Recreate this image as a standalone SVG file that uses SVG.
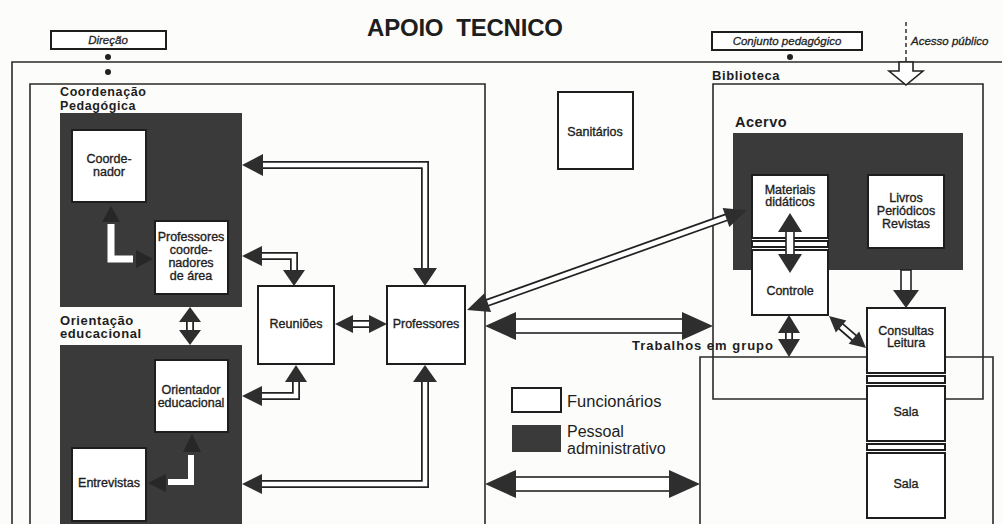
<svg xmlns="http://www.w3.org/2000/svg" width="1002" height="524" viewBox="0 0 1002 524">
<style>
text{font-family:"Liberation Sans",Arial,sans-serif;fill:#1e1e1e}
.t{font-size:12.5px;text-anchor:middle;stroke:#1e1e1e;stroke-width:0.35}
.b{font-weight:bold}
.i{font-style:italic;font-size:11.5px;stroke-width:0.3}
.frame{fill:none;stroke:#2a2a2a;stroke-width:1.6}
.box{fill:#fff;stroke:#1e1e1e;stroke-width:2}
.dark{fill:#3a3a3a}
.head{fill:#2e2e2e}
.dhead{fill:#272727}
.so{fill:none;stroke:#222;stroke-width:8}
.si{fill:none;stroke:#fff;stroke-width:4.5}
.sr{fill:#fff;stroke:#222;stroke-width:1.6}
</style>
<rect width="1002" height="524" fill="#fcfcfa"/>

<g id="title"><text x="367" y="36" font-size="24" class="b" fill="#2a2a2a" textLength="196" xml:space="preserve">APOIO  TECNICO</text></g>

<g id="frames">
<path class="frame" d="M12,524 V62 H1002"/>
<path class="frame" d="M30,524 V84 H485 V524"/>
<path class="frame" d="M713,84 H983 V399 H713 Z"/>
<path class="frame" d="M700,524 V357 H993 V524"/>
<line x1="906" y1="22" x2="906" y2="62" stroke="#222" stroke-width="1.4" stroke-dasharray="4,3"/>
<circle cx="108" cy="57" r="3" fill="#222"/>
<circle cx="108" cy="72" r="3" fill="#222"/>
<circle cx="790" cy="57" r="3" fill="#222"/>
<polygon points="899,62 913,62 913,71 923,71 906,85 889,71 899,71" fill="#fff" stroke="#222" stroke-width="1.6"/>
</g>

<g id="direcao"><rect x="51" y="31" width="115" height="18" class="box" stroke-width="1.5"/><text x="108" y="44" class="t i">Direção</text></g>
<g id="conjunto"><rect x="712" y="32" width="150" height="18" class="box" stroke-width="1.5"/><text x="787" y="45" class="t i">Conjunto pedagógico</text></g>
<g id="acesso"><text x="911" y="45" class="i" stroke="#1e1e1e">Acesso público</text></g>

<g id="coordenacao">
<text x="60" y="96" font-size="12.5" class="b" letter-spacing="0.6">Coordenação</text>
<text x="60" y="109.5" font-size="12.5" class="b" letter-spacing="0.6">Pedagógica</text>
<rect x="60" y="113" width="182" height="194" class="dark"/>
</g>
<g id="coordenador"><rect x="72" y="130" width="74" height="72" class="box"/><text x="109" y="163" class="t">Coorde-</text><text x="109" y="176" class="t">nador</text></g>
<g id="prof-coord"><rect x="155" y="221" width="73" height="73" class="box"/><text x="191" y="241" class="t">Professores</text><text x="191" y="254" class="t">coorde-</text><text x="191" y="267" class="t">nadores</text><text x="191" y="280" class="t">de área</text></g>

<g id="orientacao">
<text x="60" y="325" font-size="13" class="b" letter-spacing="0.6">Orientação</text>
<text x="60" y="338" font-size="13" class="b" letter-spacing="0.6">educacional</text>
<rect x="60" y="345" width="182" height="179" class="dark"/>
</g>
<g id="orientador"><rect x="155" y="360" width="73" height="72" class="box"/><text x="191" y="394" class="t">Orientador</text><text x="191" y="407" class="t">educacional</text></g>
<g id="entrevistas"><rect x="72" y="448" width="74" height="73" class="box"/><text x="109" y="487" class="t">Entrevistas</text></g>

<g id="reunioes"><rect x="258" y="286" width="76" height="78" class="box"/><text x="296" y="328" class="t">Reuniões</text></g>
<g id="professores"><rect x="387" y="286" width="78" height="78" class="box"/><text x="426" y="328" class="t">Professores</text></g>
<g id="sanitarios"><rect x="558" y="92" width="75" height="77" class="box"/><text x="595" y="136" class="t">Sanitários</text></g>

<g id="biblioteca"><text x="712" y="80" font-size="13" class="b" letter-spacing="0.6">Biblioteca</text></g>
<g id="acervo">
<text x="735" y="127" font-size="14.5" class="b" letter-spacing="0.5">Acervo</text>
<rect x="733" y="133" width="230" height="137" class="dark"/>
</g>
<g id="materiais-controle">
<rect x="752" y="175" width="76" height="140" fill="#fff"/>
<rect x="752" y="175" width="76" height="63" class="box"/><text x="790" y="194" class="t">Materiais</text><text x="790" y="206" class="t">didáticos</text>
<rect x="752" y="241" width="76" height="6" class="box" stroke-width="1.5"/>
<rect x="752" y="250" width="76" height="65" class="box"/><text x="790" y="295" class="t">Controle</text>
</g>
<g id="livros"><rect x="868" y="175" width="76" height="73" class="box"/><text x="906" y="202" class="t">Livros</text><text x="906" y="215" class="t">Periódicos</text><text x="906" y="228" class="t">Revistas</text></g>
<g id="consultas-salas">
<rect x="867" y="308" width="78" height="210" fill="#fff"/>
<rect x="867" y="308" width="78" height="65" class="box"/><text x="906" y="335" class="t">Consultas</text><text x="906" y="347" class="t">Leitura</text>
<rect x="867" y="376" width="78" height="7" class="box" stroke-width="1.5"/>
<rect x="867" y="386" width="78" height="55" class="box"/><text x="906" y="416" class="t">Sala</text>
<rect x="867" y="444" width="78" height="6" class="box" stroke-width="1.5"/>
<rect x="867" y="453" width="78" height="65" class="box"/><text x="906" y="488" class="t">Sala</text>
</g>
<g id="trabalhos"><text x="632" y="350" font-size="13" class="b" textLength="141">Trabalhos em grupo</text></g>

<g id="legenda">
<rect x="512" y="388" width="49" height="24" class="box" stroke-width="1.5"/>
<text x="567" y="407" font-size="16.5">Funcionários</text>
<rect x="512" y="425" width="49" height="27" class="dark"/>
<text x="567" y="437" font-size="16">Pessoal</text>
<text x="567" y="454" font-size="16">administrativo</text>
</g>

<g id="connectors">
<path class="so" d="M425,270 V165 H260"/><path class="si" d="M425,270 V165 H260"/>
<polygon class="head" points="242,165 263,154 263,176"/>
<polygon class="head" points="425,286 413,268 437,268"/>
<path class="so" d="M294,272 V256 H260"/><path class="si" d="M294,272 V256 H260"/>
<polygon class="head" points="242,256 262,246 262,266"/>
<polygon class="head" points="294,286 283,270 305,270"/>
<path class="so" d="M296,380 V396 H260"/><path class="si" d="M296,380 V396 H260"/>
<polygon class="head" points="296,365 285,382 307,382"/>
<polygon class="head" points="242,396 262,386 262,406"/>
<path class="so" d="M425,380 V484 H260"/><path class="si" d="M425,380 V484 H260"/>
<polygon class="head" points="425,365 413,382 437,382"/>
<polygon class="head" points="242,484 262,474 262,494"/>
<path class="so" d="M190,320 V332"/><path class="si" d="M190,320 V332"/>
<polygon class="head" points="190,307 179,322 201,322"/>
<polygon class="head" points="190,345 179,330 201,330"/>
<path class="so" d="M352,324 H370"/><path class="si" d="M352,324 H370"/>
<polygon class="head" points="335,324 353,315 353,333"/>
<polygon class="head" points="387,324 369,315 369,333"/>
<g transform="translate(467,310) rotate(-19.65)">
<path class="so" d="M20,0 H277" stroke-width="10"/><path class="si" d="M20,0 H277" stroke-width="5.5"/>
<polygon class="head" points="0,0 22,-10 22,10"/>
<polygon class="head" points="297,0 275,-10 275,10"/>
</g>
<rect class="sr" x="514" y="319" width="170" height="14"/>
<polygon class="head" points="485,326 516,312 516,340"/>
<polygon class="head" points="713,326 682,312 682,340"/>
<rect class="sr" x="514" y="477" width="157" height="14"/>
<polygon class="head" points="485,484 516,470 516,498"/>
<polygon class="head" points="700,484 669,470 669,498"/>
<rect class="sr" x="786" y="230" width="8" height="26"/>
<polygon class="head" points="790,213 778,232 802,232"/>
<polygon class="head" points="790,273 778,254 802,254"/>
<rect class="sr" x="901" y="270" width="10" height="22"/>
<polygon class="head" points="906,308 893,290 919,290"/>
<path class="so" d="M789,331 V341"/><path class="si" d="M789,331 V341"/>
<polygon class="head" points="789,315 778,333 800,333"/>
<polygon class="head" points="789,357 778,339 800,339"/>
<g transform="translate(829,316) rotate(40.9)">
<path class="so" d="M14,0 H35" stroke-width="6"/><path class="si" d="M14,0 H35" stroke-width="3"/>
<polygon class="head" points="0,0 16,-8 16,8"/>
<polygon class="head" points="49,0 33,-8 33,8"/>
</g>
<path d="M111,224 V259 H133" fill="none" stroke="#fff" stroke-width="7"/>
<polygon class="dhead" points="111,206 102,222 120,222"/>
<polygon class="dhead" points="153,259 136,250 136,268"/>
<path d="M191,455 V482 H168" fill="none" stroke="#fff" stroke-width="6"/>
<polygon class="dhead" points="192,434 183,452 201,452"/>
<polygon class="dhead" points="148,483 166,474 166,492"/>
</g>
</svg>
